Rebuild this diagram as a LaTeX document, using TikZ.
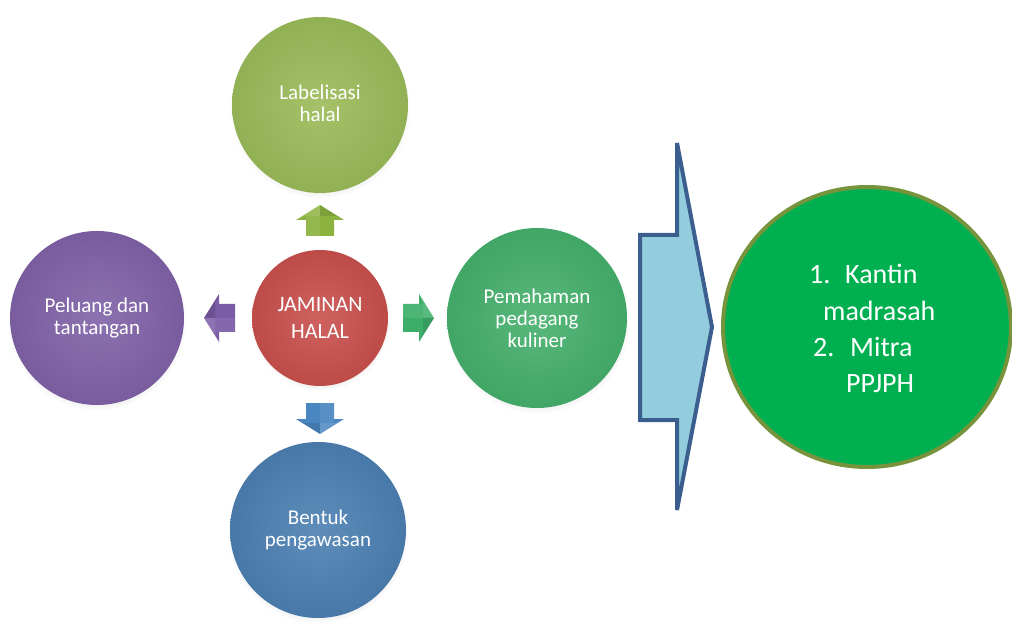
\documentclass[tikz,border=0pt]{standalone}
\usepackage{fontspec}
\setmainfont{Carlito}
\usetikzlibrary{shadows,shapes.geometric}
\definecolor{cOlive}{HTML}{9BBB59}
\definecolor{cRed}{HTML}{C9504D}
\definecolor{cPurple}{HTML}{8062A8}
\definecolor{cGreen}{HTML}{45B06C}
\definecolor{cBlue}{HTML}{4C80B2}
\definecolor{aOlive}{HTML}{8DB33F}
\definecolor{aPurple}{HTML}{7A5BA5}
\definecolor{aGreen}{HTML}{3DAE6A}
\definecolor{aBlue}{HTML}{4A86C0}
\definecolor{bigFill}{HTML}{93CDDD}
\definecolor{bigLine}{HTML}{3B5E8F}
\definecolor{resFill}{HTML}{00B050}
\definecolor{resLine}{HTML}{77933C}
\tikzset{
  orb/.style={circle, inner sep=0pt, text=white, align=center,
    inner color=#1!90!white, outer color=#1!94!black,
    circular drop shadow={shadow xshift=0pt, shadow yshift=-3pt, shadow scale=1.03, opacity=0.2, fill=gray}},
  smalltxt/.style={font=\fontsize{21}{22}\selectfont},
  bigtxt/.style={text=white, inner sep=0pt, anchor=base west, font=\fontsize{28}{34}\selectfont},
  blk/.pic={
    \fill[pic actions] (0,-14) -- (16,-14) -- (16,-24) -- (31,0) -- (16,24) -- (16,14) -- (0,14) -- cycle;
    \fill[white, opacity=0.15] (16,-24) -- (31,0) -- (20,0) -- (20,-16) -- cycle;
    \fill[black, opacity=0.1] (16,24) -- (31,0) -- (20,0) -- (20,16) -- cycle;
    \fill[white, opacity=0.08] (0,-14) -- (20,-14) -- (20,0) -- (0,0) -- cycle;
  },
  bigarrow/.style={fill=bigFill, draw=bigLine, line width=4pt, line join=miter}
}
\begin{document}
\begin{tikzpicture}[x=1pt,y=-1pt]
\useasboundingbox (0,0) rectangle (1012,628);
% circles
\node[orb=cOlive, minimum size=176pt, smalltxt] (lab) at (320,105) {\raisebox{4pt}{Labelisasi}\\\raisebox{4pt}{halal}};
\node[orb=cRed, minimum size=136pt, font=\fontsize{22}{27}\selectfont] (jam) at (320,318) {JAMINAN\\HALAL};
\node[orb=cPurple, minimum size=174pt, smalltxt] (pel) at (97,318) {Peluang dan\\tantangan};
\node[orb=cGreen, minimum size=180pt, smalltxt] (pem) at (537,318) {Pemahaman\\pedagang\\kuliner};
\node[orb=cBlue, minimum size=176pt, smalltxt] (ben) at (318,530) {Bentuk\\pengawasan};
% small block arrows
\pic[fill=aOlive, rotate=90] (ua) at (320,236) {blk};
\pic[fill=aPurple, rotate=180] (la) at (235,318) {blk};
\pic[fill=aGreen] (ra) at (403,318) {blk};
\pic[fill=aBlue, rotate=-90] (da) at (320,403) {blk};
% big arrow
\draw[bigarrow] (640,235) -- (677,235) -- (677,143) -- (712,327) -- (677,510) -- (677,420) -- (640,420) -- cycle;
% result circle
\node[ellipse, minimum width=288pt, minimum height=280pt, fill=resFill, draw=resLine, line width=4pt] (res) at (867,327) {};
\node[bigtxt] (n1) at (809,284) {1.};
\node[bigtxt] (k1) at (845,284) {Kantin};
\node[bigtxt] (k2) at (823,320) {madrasah};
\node[bigtxt] (n2) at (813,356) {2.};
\node[bigtxt] (m1) at (850,356) {Mitra};
\node[bigtxt] (m2) at (846,392) {PPJPH};
\end{tikzpicture}
\end{document}
